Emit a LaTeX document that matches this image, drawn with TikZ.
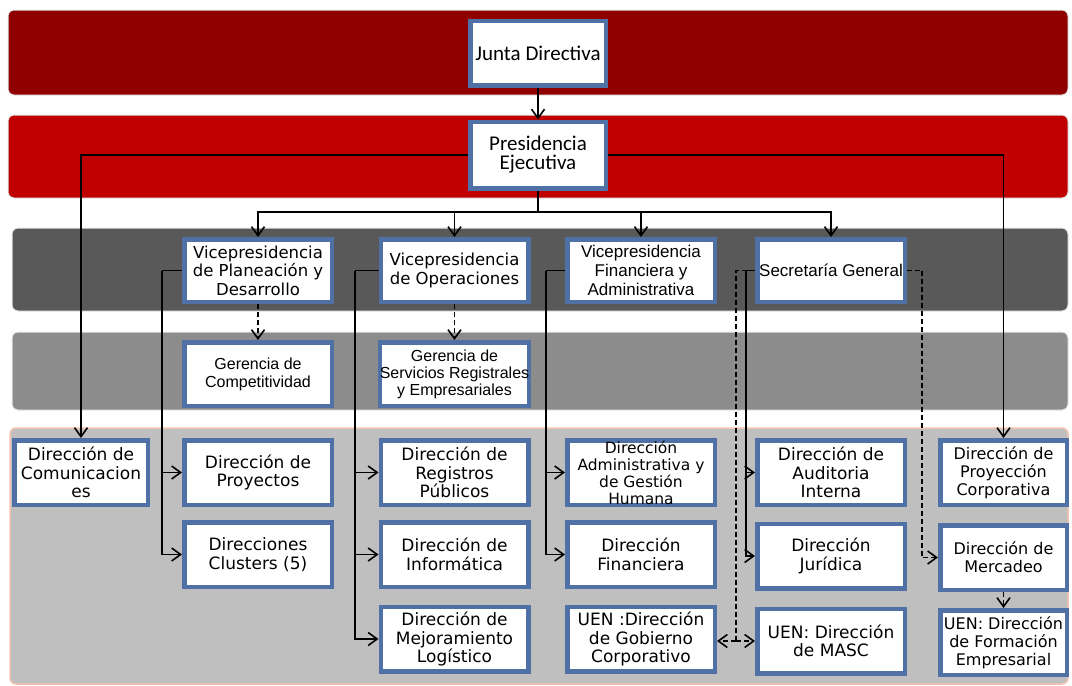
\documentclass[tikz,border=0pt]{standalone}
\usepackage{fontspec}
\setmainfont{DejaVu Sans}
\newfontfamily\arialfont{Liberation Sans}
\newfontfamily\califont{Carlito}
\usetikzlibrary{arrows.meta}
\definecolor{bandone}{RGB}{145,0,0}
\definecolor{bandtwo}{RGB}{192,0,0}
\definecolor{bandthree}{RGB}{89,89,89}
\definecolor{bandfour}{RGB}{140,140,140}
\definecolor{bandfive}{RGB}{191,191,191}
\definecolor{bandrim}{RGB}{225,235,235}
\definecolor{pinkrim}{RGB}{242,195,175}
\definecolor{boxblue}{RGB}{79,113,165}
\tikzset{
    unit/.style={draw=boxblue, fill=white, line width=4.5pt, inner sep=0pt, align=center,
        minimum width=147.5, minimum height=64.5, font=\fontsize{17}{18.5}\selectfont},
    vpunit/.style={unit, minimum height=62.5, font=\fontsize{16.5}{18.5}\selectfont},
    aunit/.style={unit, minimum height=62.5, font=\arialfont\fontsize{17}{19}\selectfont},
    gunit/.style={unit, minimum height=63.5, font=\arialfont\fontsize{16}{17}\selectfont},
    topunit/.style={unit, minimum width=135.5, font=\califont\fontsize{21}{19}\selectfont},
    sunit/.style={unit, minimum width=126.5, font=\fontsize{16}{18}\selectfont},
    band/.style={draw=bandrim, line width=1pt, rounded corners=6pt},
    link/.style={line width=1.4pt, -{Straight Barb[length=9pt,width=13pt,line width=1.6pt]}},
    plain/.style={line width=1.4pt},
    dlink/.style={link, dash pattern=on 5pt off 3pt},
    dplain/.style={plain, dash pattern=on 5pt off 3pt}
}
\begin{document}
\begin{tikzpicture}[x=1pt,y=-1pt]
\useasboundingbox (0,0) rectangle (1072,686);
% bands
\fill[bandone, band] (8,10) rectangle (1068,95); % junta level
\fill[bandtwo, band] (8,115) rectangle (1068,198); % presidencia level
\fill[bandthree, band] (12,228) rectangle (1068,311); % vicepresidencias
\fill[bandfour, band] (12,332) rectangle (1068,410); % gerencias
\fill[bandfive, band, draw=pinkrim, line width=1.5pt] (10,428) rectangle (1068,684); % direcciones
% top
\node[topunit] (junta) at (538,53) {Junta Directiva};
\node[topunit, minimum height=66.5] (pres) at (538,155) {Presidencia\\Ejecutiva};
% vicepresidencias
\node[vpunit] (vpplan) at (258,270.5) {Vicepresidencia\\de Planeación y\\Desarrollo};
\node[vpunit] (vpoper) at (454.5,270.5) {Vicepresidencia\\de Operaciones};
\node[aunit] (vpfin) at (641,270.5) {Vicepresidencia\\Financiera y\\Administrativa};
\node[aunit] (secgen) at (831,270.5) {Secretaría General};
% gerencias
\node[gunit, font=\arialfont\fontsize{16}{18}\selectfont] (gercomp) at (258,374) {Gerencia de\\Competitividad};
\node[gunit] (gerserv) at (454.5,374) {Gerencia de\\Servicios Registrales\\y Empresariales};
% direcciones
\node[unit, minimum width=133.5] (dcom) at (81,472.5) {Dirección de\\Comunicacion\\es};
\node[unit] (dproy) at (258,472.5) {Dirección de\\Proyectos};
\node[unit] (dclus) at (258,554.5) {Direcciones\\Clusters (5)};
\node[unit] (dreg) at (454.5,472.5) {Dirección de\\Registros\\Públicos};
\node[unit] (dinf) at (454.5,554.5) {Dirección de\\Informática};
\node[unit] (dmej) at (454.5,639) {Dirección de\\Mejoramiento\\Logístico};
\node[unit, font=\fontsize{15.5}{17}\selectfont] (dadm) at (641,472.5) {Dirección\\Administrativa y\\de Gestión\\Humana};
\node[unit] (dfin) at (641,554.5) {Dirección\\Financiera};
\node[unit] (dgob) at (641,639) {UEN :Dirección\\de Gobierno\\Corporativo};
\node[unit] (daud) at (831,472.5) {Dirección de\\Auditoria\\Interna};
\node[unit] (djur) at (831,556) {Dirección\\Jurídica};
\node[unit] (dmasc) at (831,641) {UEN: Dirección\\de MASC};
\node[sunit] (dpcor) at (1003.5,472.5) {Dirección de\\Proyección\\Corporativa};
\node[sunit] (dmerc) at (1003.5,557.5) {Dirección de\\Mercadeo};
\node[sunit] (dform) at (1003.5,642.5) {UEN: Dirección\\de Formación\\Empresarial};
% bus points
\coordinate (vpbus) at (538,212);
\coordinate (planbus) at (162,270.5);
\coordinate (operbus) at (355,270.5);
\coordinate (finbus) at (546,270.5);
\coordinate (secbus) at (746,270.5);
\coordinate (uenbus) at (736,641);
\coordinate (mercbus) at (922,270.5);
% connectors
\draw[link] (junta) -- (pres);
\draw[link] (pres.west) -| (dcom.north); % to comunicaciones
\draw[link] (pres.east) -| (dpcor.north); % to proyeccion
\draw[plain] (pres) -- (vpbus);
\foreach \vp in {vpplan,vpoper,vpfin,secgen}
    \draw[link] (vpbus) -| (\vp.north);
\draw[dlink] (vpplan) -- (gercomp);
\draw[dlink] (vpoper) -- (gerserv);
\draw[plain] (vpplan.west) -- (planbus);
\foreach \d in {dproy,dclus}
    \draw[link] (planbus) |- (\d.west);
\draw[plain] (vpoper.west) -- (operbus);
\foreach \d in {dreg,dinf,dmej}
    \draw[link] (operbus) |- (\d.west);
\draw[plain] (vpfin.west) -- (finbus);
\foreach \d in {dadm,dfin}
    \draw[link] (finbus) |- (\d.west);
\draw[plain] (secgen.west) -- (secbus);
\foreach \d in {daud,djur}
    \draw[link] (secbus) |- (\d.west);
\draw[dplain] (secgen.west) -| (uenbus); % dashed to the UEN pair
\draw[dlink] (uenbus) -- (dgob.east |- uenbus);
\draw[dlink] (uenbus) -- (dmasc.west |- uenbus);
\draw[dplain] (secgen.east) -- (mercbus);
\draw[dlink] (mercbus) |- (dmerc.west);
\draw[dlink] (dmerc) -- (dform);
\end{tikzpicture}
\end{document}
